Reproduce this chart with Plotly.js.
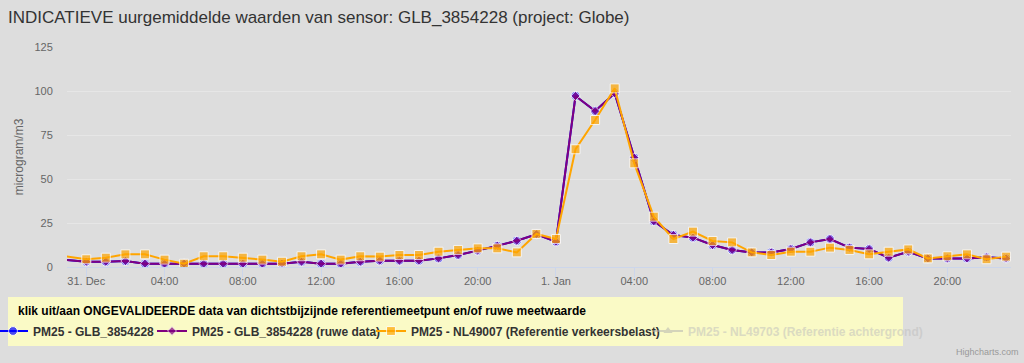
<!DOCTYPE html>
<html>
<head>
<meta charset="utf-8">
<script src="https://cdn.plot.ly/plotly-3.0.1.min.js"></script>
<style>html,body{margin:0;padding:0;background:#dddddd;}#chart{width:1024px;height:363px;}</style>
</head>
<body>
<div id="chart"></div>
<script>
// Hourly timestamps (30 Dec 23:00 .. 1 Jan 23:00)
var times = [
  "2018-12-30 23:00",
  "2018-12-31 00:00","2018-12-31 01:00","2018-12-31 02:00","2018-12-31 03:00","2018-12-31 04:00","2018-12-31 05:00",
  "2018-12-31 06:00","2018-12-31 07:00","2018-12-31 08:00","2018-12-31 09:00","2018-12-31 10:00","2018-12-31 11:00",
  "2018-12-31 12:00","2018-12-31 13:00","2018-12-31 14:00","2018-12-31 15:00","2018-12-31 16:00","2018-12-31 17:00",
  "2018-12-31 18:00","2018-12-31 19:00","2018-12-31 20:00","2018-12-31 21:00","2018-12-31 22:00","2018-12-31 23:00",
  "2019-01-01 00:00","2019-01-01 01:00","2019-01-01 02:00","2019-01-01 03:00","2019-01-01 04:00","2019-01-01 05:00",
  "2019-01-01 06:00","2019-01-01 07:00","2019-01-01 08:00","2019-01-01 09:00","2019-01-01 10:00","2019-01-01 11:00",
  "2019-01-01 12:00","2019-01-01 13:00","2019-01-01 14:00","2019-01-01 15:00","2019-01-01 16:00","2019-01-01 17:00",
  "2019-01-01 18:00","2019-01-01 19:00","2019-01-01 20:00","2019-01-01 21:00","2019-01-01 22:00","2019-01-01 23:00"
];

// PM25 - GLB_3854228 (same as raw data; drawn underneath)
var sensorValues = [4, 3.0,3.0,3.4,1.9,1.9,1.9, 1.9,1.9,1.9,1.9,1.9,3.0, 1.9,1.9,3.0,3.6,3.6,3.6,
  4.9,6.8,9.3,12.1,14.9,18.6, 14.4,97.2,88.6,98.7,62.1,26, 18.2,16.7,12.5,9.7,8.3,8.3,
  10.2,14.0,15.9,11.0,10.2,5.3, 8.7,4.9,4.9,4.9,5.5,4.9];
// PM25 - GLB_3854228 (ruwe data)
var rawValues = [4, 3.0,3.0,3.4,1.9,1.9,1.9, 1.9,1.9,1.9,1.9,1.9,3.0, 1.9,1.9,3.0,3.6,3.6,3.6,
  4.9,6.8,9.3,12.1,14.9,18.6, 14.4,97.2,88.6,98.7,62.1,26, 18.2,16.7,12.5,9.7,8.3,8.3,
  10.2,14.0,15.9,11.0,10.2,5.3, 8.7,4.9,4.9,4.9,5.5,4.9];
// PM25 - NL49007 (Referentie verkeersbelast)
var refTrafficValues = [6, 4.4,5.3,7.2,7.2,4.2,1.9, 6.1,6.1,5.3,4.2,3.0,6.1, 7.2,4.2,6.1,5.9,6.8,6.8,
  8.7,9.7,10.6,10.6,8.3,18.8, 15.9,66.9,83.5,101.5,58.9,28.6, 15.9,20.1,14.8,14.0,8.3,6.8,
  8.7,8.7,11.0,9.7,7.2,8.7, 10.0,4.9,6.1,7.2,4.4,5.9];
// PM25 - NL49703 (Referentie achtergrond) - switched off in the chart, values not shown
var refBackgroundTimes = ["2018-12-31 00:00"];
var refBackgroundValues = [null];

var tickVals = ["2018-12-31 00:00","2018-12-31 04:00","2018-12-31 08:00","2018-12-31 12:00","2018-12-31 16:00","2018-12-31 20:00",
  "2019-01-01 00:00","2019-01-01 04:00","2019-01-01 08:00","2019-01-01 12:00","2019-01-01 16:00","2019-01-01 20:00"];
var tickText = ["31. Dec","04:00","08:00","12:00","16:00","20:00","1. Jan","04:00","08:00","12:00","16:00","20:00"];
var yTicks = [0,25,50,75,100,125];

var seriesNames = [
  "PM25 - GLB_3854228",
  "PM25 - GLB_3854228 (ruwe data)",
  "PM25 - NL49007 (Referentie verkeersbelast)",
  "PM25 - NL49703 (Referentie achtergrond)"
];
var legendTitle = 'klik uit/aan ONGEVALIDEERDE data van dichtstbijzijnde referentiemeetpunt en/of ruwe meetwaarde';

function hideFirst(arr, size){ return arr.map(function(v,i){ return i===0 ? 0 : size; }); }

var traces = [
  {x: times, y: sensorValues, name: seriesNames[0], type: 'scatter', mode: 'lines+markers', legend: 'legend',
   line: {color: '#0000ff', width: 2}, marker: {color: '#0000ff', symbol: 'circle', size: hideFirst(sensorValues, 9)}},
  {x: times, y: rawValues, name: seriesNames[1], type: 'scatter', mode: 'lines+markers', legend: 'legend2',
   line: {color: '#800080', width: 2}, marker: {color: '#800080', symbol: 'diamond', size: hideFirst(rawValues, 7)}},
  {x: times, y: refTrafficValues, name: seriesNames[2], type: 'scatter', mode: 'lines+markers', legend: 'legend3',
   line: {color: '#ffa500', width: 2}, marker: {color: '#ffa500', symbol: 'square', size: hideFirst(refTrafficValues, 9)}},
  {x: refBackgroundTimes, y: refBackgroundValues, name: '<span style="color:#bdbdbd">' + seriesNames[3] + '</span>',
   type: 'scatter', mode: 'lines+markers', visible: 'legendonly', legend: 'legend4', showlegend: true,
   line: {color: '#b0b0b0', width: 2}, marker: {color: '#b0b0b0', symbol: 'triangle-up', size: 8}}
];

var F = '"Liberation Sans", Arial, sans-serif';
function legendAt(px, indent){
  return {orientation: 'h', xref: 'paper', yref: 'container', x: (px-67)/944, y: 1 - 331/363,
          xanchor: 'left', yanchor: 'middle', bgcolor: 'rgba(0,0,0,0)', borderwidth: 0,
          indentation: indent || 0,
          font: {size: 12, color: '#333333', family: F, weight: 'bold'}};
}

var layout = {
  width: 1024, height: 363,
  paper_bgcolor: '#dddddd', plot_bgcolor: '#dddddd',
  margin: {l: 67, r: 13, t: 47, b: 96},
  font: {family: F, color: '#333333'},
  title: {text: 'INDICATIEVE uurgemiddelde waarden van sensor: GLB_3854228 (project: Globe)',
          x: 8/1024, xanchor: 'left', xref: 'container', y: 1 - 17/363, yanchor: 'middle', yref: 'container',
          font: {size: 17, color: '#333333', family: F}},
  xaxis: {type: 'date', range: ['2018-12-30 23:01', '2019-01-01 23:15'],
          tickmode: 'array', tickvals: tickVals, ticktext: tickText,
          showgrid: false, showline: true, linecolor: '#ccd6eb', linewidth: 1,
          ticks: 'outside', ticklen: 10, tickcolor: '#ccd6eb', ticklabelstandoff: -6,
          tickfont: {size: 11, color: '#666666'}, fixedrange: true},
  yaxis: {range: [0, 125], tickmode: 'array', tickvals: yTicks,
          gridcolor: '#e6e6e6', gridwidth: 1, zeroline: false, showline: false,
          ticks: 'outside', ticklen: 11, tickcolor: 'rgba(0,0,0,0)',
          tickfont: {size: 11, color: '#666666'},
          title: {text: 'microgram/m3', font: {size: 12, color: '#666666'}, standoff: 8}},
  legend: legendAt(0, -7),
  legend2: legendAt(152),
  legend3: legendAt(371),
  legend4: legendAt(648),
  shapes: [{type: 'rect', xref: 'paper', yref: 'paper',
            x0: (8-67)/944, x1: (903-67)/944, y0: (267-297)/220, y1: (267-346)/220,
            fillcolor: '#fafac6', line: {width: 0}, layer: 'below'}],
  annotations: [
    {text: '<b>' + legendTitle + '</b>', xref: 'paper', yref: 'paper', x: (16-67)/944, y: (267-311)/220,
     xanchor: 'left', yanchor: 'middle', showarrow: false, font: {size: 12, color: '#000000', family: F}},
    {text: 'Highcharts.com', xref: 'paper', yref: 'paper', x: 1, y: 0, xanchor: 'right', yanchor: 'top',
     xshift: 10, yshift: -78, showarrow: false, font: {size: 9, color: '#999999'}}],
  showlegend: true
};

Plotly.newPlot('chart', traces, layout, {displayModeBar: false});
</script>
</body>
</html>
